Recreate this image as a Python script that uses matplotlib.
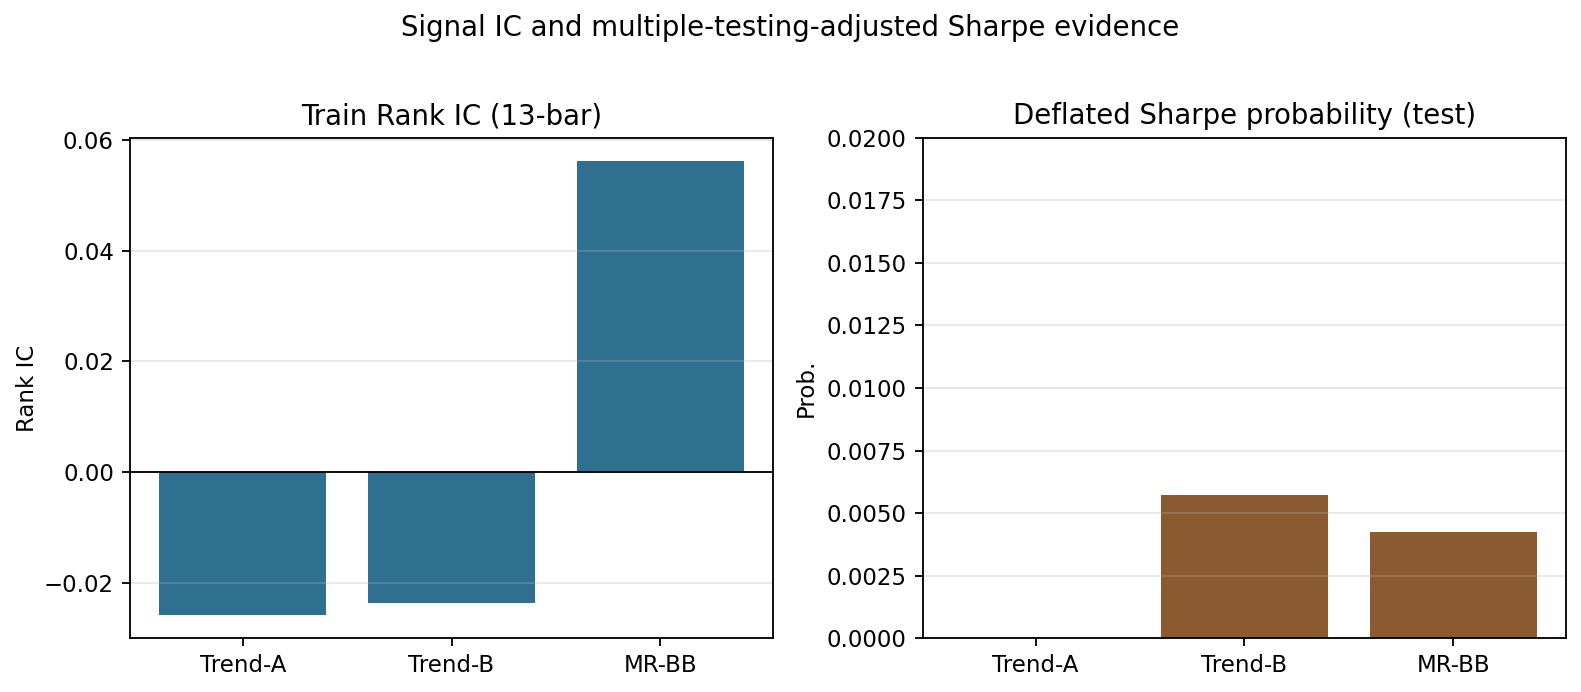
import matplotlib
matplotlib.use("Agg")
import matplotlib.pyplot as plt

strategies = ["Trend-A", "Trend-B", "MR-BB"]
rank_ic = [-0.0258, -0.0235, 0.0562]
dsr_prob = [0.0, 0.00571, 0.00425]

DPI = 165
fig, axes = plt.subplots(1, 2, figsize=(1581 / DPI, 692 / DPI), dpi=DPI)
ax1, ax2 = axes

ax1.bar(strategies, rank_ic, color="#2f7090")
ax1.axhline(0, color="black", lw=0.8)
ax1.set_title("Train Rank IC (13-bar)")
ax1.set_ylabel("Rank IC", labelpad=2.3)
ax1.grid(axis="y", alpha=0.3)

ax2.bar(strategies, dsr_prob, color="#8b5a30")
ax2.set_ylim(0, 0.02)
ax2.set_title("Deflated Sharpe probability (test)")
ax2.set_ylabel("Prob.")
ax2.grid(axis="y", alpha=0.3)

fig.suptitle("Signal IC and multiple-testing-adjusted Sharpe evidence")
fig.subplots_adjust(left=0.0822, right=0.9905, bottom=0.078, top=0.8006, wspace=0.233)
fig.savefig("out.png", dpi=DPI)
